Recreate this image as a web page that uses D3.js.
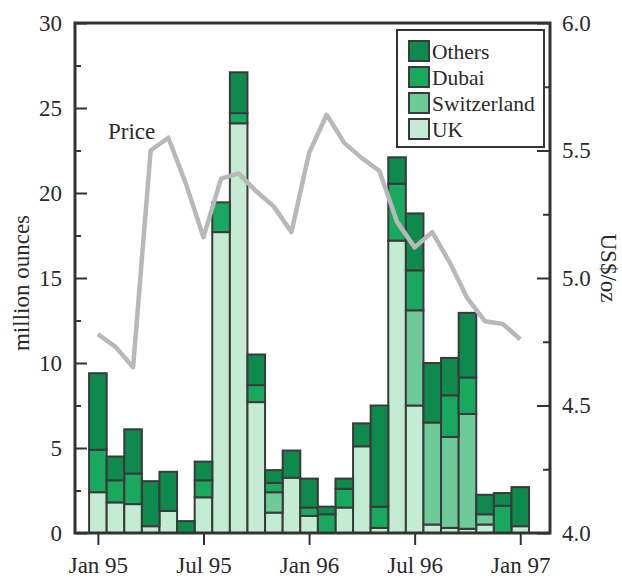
<!DOCTYPE html>
<html>
<head>
<meta charset="utf-8">
<script src="https://cdn.jsdelivr.net/npm/d3@7"></script>
<style>
  body { margin: 0; background: #fff; }
  svg text { font-family: "Liberation Serif", "Times New Roman", serif; fill: #2a2a2a; }
</style>
</head>
<body>
<svg width="622" height="581"></svg>
<script>
// monthly series, Jan 95 .. Jan 97
var months = d3.range(25);
var tickMonths = [0, 6, 12, 18, 24];
var tickLabels = ["Jan 95", "Jul 95", "Jan 96", "Jul 96", "Jan 97"];
var keys = ["UK", "Switzerland", "Dubai", "Others"];

var uk          = [2.4, 1.8, 1.7, 0.4, 1.3, 0,   2.1, 17.7, 24.1, 7.7, 1.2, 3.25, 1.0, 0,   1.5, 5.1, 0.3,  17.2, 7.5, 0.5, 0.3, 0.25, 0.5, 0,   0.4];
var switzerland = [0,   0,   0,   0,   0,   0,   0,   0,    0,    0,   1.2, 0,    0,   0,   0,   0,   0,    0,    5.6, 6.0, 5.35, 6.75, 0.6, 0,   0];
var dubai       = [2.5, 1.3, 1.8, 0,   0,   0,   1.0, 1.75, 0.6,  1.0, 0.55, 0,   0.5, 1.1, 1.1, 0,   1.25, 3.35, 2.35, 0,  2.45, 2.15, 0,   1.6, 0];
var others      = [4.5, 1.4, 2.6, 2.65, 2.3, 0.7, 1.1, 0,    2.4,  1.8, 0.75, 1.6, 1.7, 0.45, 0.6, 1.35, 5.95, 1.55, 3.35, 3.5, 2.2, 3.8, 1.15, 0.75, 2.3];

var price = [4.78, 4.73, 4.65, 5.50, 5.55, 5.37, 5.16, 5.39, 5.41, 5.34, 5.28, 5.18, 5.49,
             5.64, 5.53, 5.47, 5.42, 5.22, 5.12, 5.18, 5.06, 4.92, 4.83, 4.82, 4.76];

var colors = { UK: "#c4ecd5", Switzerland: "#6ecb97", Dubai: "#18a95f", Others: "#0e8a4c" };

var table = months.map(function(m, i) {
  return { month: m, UK: uk[i], Switzerland: switzerland[i], Dubai: dubai[i], Others: others[i] };
});

var svg = d3.select("svg"),
    x0 = 75, x1 = 550, y0 = 23, y1 = 533;

var x = d3.scaleLinear().domain([-1.3, 25.69]).range([x0, x1]);
var y = d3.scaleLinear().domain([0, 30]).range([y1, y0]);
var yp = d3.scaleLinear().domain([4, 6]).range([y1, y0]);
var bw = x(1) - x(0);

var series = d3.stack().keys(keys)(table);

var g = svg.append("g");
series.forEach(function(s) {
  g.selectAll(null)
    .data(s.filter(function(d) { return d[1] - d[0] > 0; }))
    .enter().append("rect")
      .attr("x", function(d) { return x(d.data.month) - bw / 2; })
      .attr("width", bw)
      .attr("y", function(d) { return y(d[1]); })
      .attr("height", function(d) { return y(d[0]) - y(d[1]); })
      .attr("fill", colors[s.key])
      .attr("stroke", "#3a3a3a")
      .attr("stroke-width", 2);
});

// price line
var line = d3.line()
    .x(function(d, i) { return x(months[i]); })
    .y(function(d) { return yp(d); });

svg.append("path")
    .datum(price)
    .attr("fill", "none")
    .attr("stroke", "#b8b8b8")
    .attr("stroke-width", 4.5)
    .attr("stroke-linejoin", "round")
    .attr("d", line);

svg.append("text")
    .attr("x", 108).attr("y", 139)
    .style("font-size", "23px")
    .text("Price");

// axes
function styleAxis(sel) {
  sel.select(".domain").remove();
  sel.selectAll("line").attr("stroke", "#333").attr("stroke-width", 2);
  sel.selectAll("text").style("font-size", "23px").attr("fill", "#2a2a2a");
}

svg.append("g")
    .attr("transform", "translate(" + x0 + ",0)")
    .call(d3.axisLeft(y).tickValues([0, 5, 10, 15, 20, 25, 30]).tickSize(-12).tickPadding(13))
    .call(styleAxis);
svg.append("g")
    .attr("transform", "translate(" + x0 + ",0)")
    .call(d3.axisLeft(y).tickValues([2.5, 7.5, 12.5, 17.5, 22.5, 27.5]).tickSize(-6).tickFormat(""))
    .call(styleAxis);

svg.append("g")
    .attr("transform", "translate(" + x1 + ",0)")
    .call(d3.axisRight(yp).tickValues([4, 4.5, 5, 5.5, 6]).tickSize(-13).tickPadding(12).tickFormat(d3.format(".1f")))
    .call(styleAxis);
svg.append("g")
    .attr("transform", "translate(" + x1 + ",0)")
    .call(d3.axisRight(yp).tickValues([4.25, 4.75, 5.25, 5.75]).tickSize(-7).tickFormat(""))
    .call(styleAxis);

svg.append("g")
    .attr("transform", "translate(0," + y1 + ")")
    .call(d3.axisBottom(x).tickValues(tickMonths).tickSize(12).tickPadding(12)
      .tickFormat(function(d, i) { return tickLabels[i]; }))
    .call(styleAxis);

// frame
svg.append("rect")
    .attr("x", x0).attr("y", y0)
    .attr("width", x1 - x0).attr("height", y1 - y0)
    .attr("fill", "none")
    .attr("stroke", "#333")
    .attr("stroke-width", 3);

// axis titles
svg.append("text")
    .attr("transform", "translate(29," + ((y0 + y1) / 2 + 5) + ") rotate(-90)")
    .attr("text-anchor", "middle")
    .style("font-size", "23px")
    .text("million ounces");

svg.append("text")
    .attr("transform", "translate(601," + ((y0 + y1) / 2 - 10) + ") rotate(90)")
    .attr("text-anchor", "middle")
    .style("font-size", "23px")
    .text("US$/oz");

// legend
var legendKeys = keys.slice().reverse();
var lg = svg.append("g");
lg.append("rect")
    .attr("x", 397).attr("y", 30).attr("width", 147).attr("height", 117)
    .attr("fill", "#fff").attr("stroke", "#333").attr("stroke-width", 2);
var item = lg.selectAll(null).data(legendKeys).enter().append("g")
    .attr("transform", function(d, i) { return "translate(409," + (41 + i * 26) + ")"; });
item.append("rect")
    .attr("width", 20).attr("height", 20)
    .attr("fill", function(d) { return colors[d]; })
    .attr("stroke", "#3a3a3a").attr("stroke-width", 2);
item.append("text")
    .attr("x", 23).attr("y", 18)
    .style("font-size", "21.5px")
    .text(function(d) { return d; });
</script>
</body>
</html>
